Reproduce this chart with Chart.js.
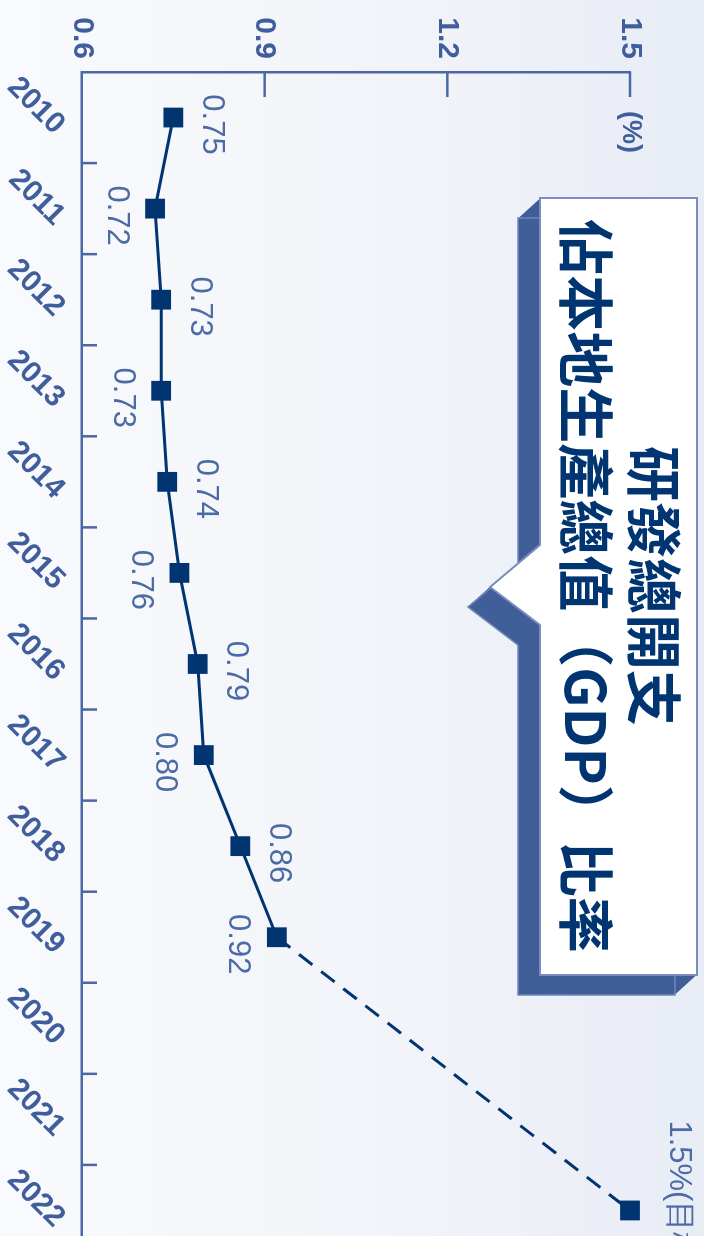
<!DOCTYPE html>
<html>
<head>
<meta charset="utf-8">
<script src="https://cdn.jsdelivr.net/npm/chart.js@4.4.1/dist/chart.umd.min.js"></script>
<style>
html, body { margin: 0; padding: 0; width: 704px; height: 1236px; overflow: hidden; }
body { background: linear-gradient(to right, #f9fafd 0%, #f2f4f9 55%, #e8ecf5 100%); }
/* chart is drawn landscape, then turned a quarter clockwise */
#wrap {
    position: absolute; left: 0; top: 0;
    width: 1270px; height: 704px;
    transform-origin: 0 0;
    transform: translate(704px, 0) rotate(90deg);
}
</style>
</head>
<body>
<div id="wrap"><canvas id="rdChart" width="1270" height="704"></canvas></div>
<script>
// ==================================================
// DATA
// ==================================================
const years = ["2010", "2011", "2012", "2013", "2014", "2015", "2016",
               "2017", "2018", "2019", "2020", "2021", "2022"];
const ratio = [0.75, 0.72, 0.73, 0.73, 0.74, 0.76, 0.79, 0.80, 0.86, 0.92, null, null, 1.5];
const valueTicks = [0.6, 0.9, 1.2, 1.5];
const unitLabel = "(%)";
const targetLabel = "1.5%(目標)";
const titleLines = ["研發總開支", "佔本地生產總值（GDP）比率"];

// ==================================================
// COLOURS
// ==================================================
const navy = "#003572";
const axisBlue = "#4a68a6";
const tickText = "#3f5e9b";
const labelText = "#4b6ba4";
const shadowBlue = "#405e97";
const boxBorder = "#7b8dbe";

// ==================================================
// OVERLAY: inward ticks, value labels, callout
// ==================================================
function drawCallout(ctx) {
    const shape = [[198, 7], [975, 7], [975, 164], [625, 164], [587, 214], [545, 164], [198, 164]];
    const trace = (dx, dy) => {
        ctx.beginPath();
        shape.forEach(([x, y], i) => i ? ctx.lineTo(x + dx, y + dy) : ctx.moveTo(x + dx, y + dy));
        ctx.closePath();
    };
    // extruded shadow
    ctx.fillStyle = shadowBlue;
    for (let k = 1; k <= 22; k++) {
        trace(k * 0.91, k);
        ctx.fill();
    }
    ctx.strokeStyle = "#6f86b8";
    ctx.lineWidth = 1.5;
    trace(20, 22);
    ctx.stroke();
    // front face
    trace(0, 0);
    ctx.fillStyle = "#ffffff";
    ctx.fill();
    ctx.strokeStyle = boxBorder;
    ctx.lineWidth = 2;
    ctx.stroke();

    ctx.fillStyle = navy;
    ctx.font = 'bold 56px "Noto Sans CJK TC"';
    ctx.textAlign = "center";
    ctx.textBaseline = "middle";
    ctx.fillText(titleLines[0], 586, 50);
    ctx.fillText(titleLines[1], 586, 118);
}

const overlayPlugin = {
    id: "overlay",
    afterDraw(chart) {
        const ctx = chart.ctx;
        const xs = chart.scales.x;
        const ys = chart.scales.y;
        const area = chart.chartArea;
        ctx.save();

        // inward tick marks
        ctx.strokeStyle = axisBlue;
        ctx.lineWidth = 2.5;
        const step = xs.getPixelForValue(1) - xs.getPixelForValue(0);
        for (let i = 0; i < years.length - 1; i++) {
            const px = xs.getPixelForValue(i) + step / 2;
            ctx.beginPath();
            ctx.moveTo(px, area.bottom);
            ctx.lineTo(px, area.bottom - 15);
            ctx.stroke();
        }
        valueTicks.slice(1).forEach(v => {
            const py = ys.getPixelForValue(v);
            ctx.beginPath();
            ctx.moveTo(area.left, py);
            ctx.lineTo(area.left + 25, py);
            ctx.stroke();
        });

        // unit label
        ctx.fillStyle = tickText;
        ctx.font = 'bold 27px "Liberation Sans", Arial';
        ctx.textAlign = "center";
        ctx.textBaseline = "middle";
        ctx.fillText(unitLabel, area.left + 60, ys.getPixelForValue(1.5));

        // value labels, alternating above / below
        const meta = chart.getDatasetMeta(0);
        ctx.fillStyle = labelText;
        ctx.font = '31px "Liberation Sans", Arial';
        const last = ratio.length - 1;
        meta.data.forEach((pt, i) => {
            if (ratio[i] === null || i === last) return;
            const above = i % 2 === 0;
            ctx.textAlign = "center";
            ctx.fillText(ratio[i].toFixed(2), pt.x + 7, pt.y + (above ? -38 : 39));
        });
        const tp = meta.data[last];
        ctx.textAlign = "left";
        ctx.fillText(targetLabel, tp.x - 90, tp.y - 49);

        drawCallout(ctx);
        ctx.restore();
    }
};

// ==================================================
// CHART
// ==================================================
const lastIndex = ratio.length - 1;
const ctx = document.getElementById("rdChart").getContext("2d");
new Chart(ctx, {
    type: "line",
    data: {
        labels: years,
        datasets: [{
            data: ratio,
            borderColor: navy,
            borderWidth: 3,
            backgroundColor: navy,
            pointStyle: "rect",
            pointRadius: 14,
            pointBorderWidth: 0,
            pointBackgroundColor: navy,
            spanGaps: true,
            tension: 0,
            clip: false,
            segment: {
                borderDash: c => (c.p1DataIndex === lastIndex ? [17, 11] : undefined)
            }
        }]
    },
    options: {
        responsive: false,
        animation: false,
        events: [],
        layout: { padding: { top: 74, right: 0, left: 0, bottom: 0 } },
        plugins: {
            legend: { display: false },
            tooltip: { enabled: false }
        },
        scales: {
            x: {
                type: "category",
                offset: true,
                grid: { display: false, drawTicks: false },
                border: { display: true, color: axisBlue, width: 2.5 },
                ticks: {
                    color: tickText,
                    font: { family: '"Liberation Sans", Arial', size: 30, weight: "bold" },
                    minRotation: 45,
                    maxRotation: 45,
                    autoSkip: false,
                    padding: 10,
                    labelOffset: 12
                },
                afterFit: s => { s.height = 82; }
            },
            y: {
                min: 0.6,
                max: 1.5,
                grid: { display: false, drawTicks: false },
                border: { display: true, color: axisBlue, width: 2.5 },
                afterBuildTicks: s => { s.ticks = valueTicks.map(v => ({ value: v })); },
                ticks: {
                    color: tickText,
                    font: { family: '"Liberation Sans", Arial', size: 30, weight: "bold" },
                    padding: 13,
                    callback: v => Number(v).toFixed(1)
                },
                afterFit: s => { s.width = 72; }
            }
        }
    },
    plugins: [overlayPlugin]
});
</script>
</body>
</html>
